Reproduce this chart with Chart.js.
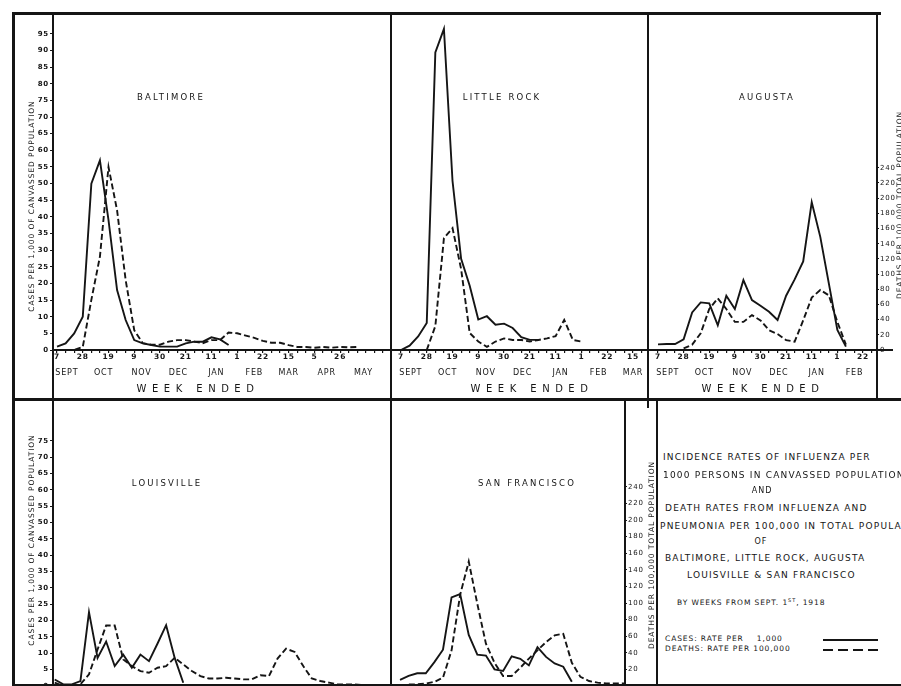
<!DOCTYPE html>
<html>
<head>
<meta charset="utf-8">
<script src="https://cdn.jsdelivr.net/npm/chart.js@4.4.1/dist/chart.umd.min.js"></script>
<style>
  html, body { margin: 0; padding: 0; background: #fff; overflow: hidden; }
  #page { position: relative; width: 901px; height: 686px; overflow: hidden; background: #fff; }
  canvas { position: absolute; }
  .ln { position: absolute; background: #151515; }
  .t { position: absolute; font-family: 'DejaVu Sans', 'Liberation Sans', sans-serif; color: #151515; white-space: nowrap; line-height: 1; }
  .c { transform: translate(-50%, -50%); }
  .l { transform: translateY(-50%); }
  .up { transform: translate(-50%, -50%) rotate(-90deg); font-size: 7.5px; letter-spacing: 0.9px; }
  .name { font-size: 8.5px; letter-spacing: 2.2px; }
  .we { font-size: 10px; letter-spacing: 5.5px; }
  .note { font-size: 9px; letter-spacing: 1.2px; }
  .small { font-size: 8px; letter-spacing: 1px; }
  .key { font-size: 7.5px; letter-spacing: 0.9px; }
  sup { font-size: 5px; }
</style>
</head>
<body>
<div id="page">
  <canvas id="baltimore" width="378" height="387" style="left:13px;top:13px"></canvas>
  <canvas id="littleRock" width="257" height="387" style="left:391px;top:13px"></canvas>
  <canvas id="augusta" width="253" height="387" style="left:648px;top:13px"></canvas>
  <canvas id="louisville" width="378" height="330" style="left:13px;top:400px"></canvas>
  <canvas id="sanFrancisco" width="266" height="330" style="left:391px;top:400px"></canvas>

  <!-- frame -->
  <div class="ln" style="left:13px;top:12px;width:868px;height:3px"></div>
  <div class="ln" style="left:12px;top:12px;width:3px;height:674px"></div>
  <div class="ln" style="left:52px;top:13px;width:2px;height:673px"></div>
  <div class="ln" style="left:390px;top:13px;width:2px;height:673px"></div>
  <div class="ln" style="left:647px;top:13px;width:2px;height:395px"></div>
  <div class="ln" style="left:876px;top:13px;width:2px;height:387px"></div>
  <div class="ln" style="left:877px;top:349px;width:16px;height:2px"></div>
  <div class="ln" style="left:13px;top:398px;width:888px;height:3px"></div>
  <div class="ln" style="left:624px;top:400px;width:2px;height:286px"></div>
  <div class="ln" style="left:656px;top:400px;width:2px;height:286px"></div>
  <div class="ln" style="left:13px;top:684px;width:888px;height:2px"></div>

  <!-- panel names -->
  <div class="t c name" style="left:171px;top:97px">BALTIMORE</div>
  <div class="t c name" style="left:502px;top:97px">LITTLE ROCK</div>
  <div class="t c name" style="left:767px;top:97px">AUGUSTA</div>
  <div class="t c name" style="left:167px;top:483px">LOUISVILLE</div>
  <div class="t c name" style="left:527px;top:483px">SAN FRANCISCO</div>

  <!-- axis titles -->
  <div class="t up" style="left:32px;top:206px">CASES PER 1,000 OF CANVASSED POPULATION</div>
  <div class="t up" style="left:32px;top:540px">CASES PER 1,000 OF CANVASSED POPULATION</div>
  <div class="t up" style="left:900px;top:205px">DEATHS PER 100,000 TOTAL POPULATION</div>
  <div class="t up" style="left:652px;top:555px">DEATHS PER 100,000 TOTAL POPULATION</div>
  <div class="t c we" style="left:198px;top:389px">WEEK ENDED</div>
  <div class="t c we" style="left:532px;top:389px">WEEK ENDED</div>
  <div class="t c we" style="left:763px;top:389px">WEEK ENDED</div>

  <!-- description -->
  <div class="t l note" style="left:663px;top:457px">INCIDENCE RATES OF INFLUENZA PER</div>
  <div class="t l note" style="left:663px;top:475px">1000 PERSONS IN CANVASSED POPULATION</div>
  <div class="t c small" style="left:762px;top:491px">AND</div>
  <div class="t l note" style="left:665px;top:508px">DEATH RATES FROM INFLUENZA AND</div>
  <div class="t l note" style="left:660px;top:526px">PNEUMONIA PER 100,000 IN TOTAL POPULATION</div>
  <div class="t c small" style="left:761px;top:542px">OF</div>
  <div class="t l note" style="left:665px;top:558px">BALTIMORE, LITTLE ROCK, AUGUSTA</div>
  <div class="t l note" style="left:687px;top:575px">LOUISVILLE &amp; SAN FRANCISCO</div>
  <div class="t l key" style="left:677px;top:602px">BY WEEKS FROM SEPT. 1<sup>ST</sup>, 1918</div>
  <div class="t l key" style="left:665px;top:639px">CASES: RATE PER &nbsp;&nbsp; 1,000</div>
  <div class="t l key" style="left:665px;top:649px">DEATHS: RATE PER 100,000</div>
  <div class="ln" style="left:823px;top:639px;width:55px;height:2px"></div>
  <div class="ln" style="left:823px;top:649px;width:55px;height:2px;background:repeating-linear-gradient(90deg,#151515 0 10px,transparent 10px 15px)"></div>
</div>

<script>
const INK = '#151515'
const FONT = "'DejaVu Sans', 'Liberation Sans', sans-serif"

// week-ending dates, every third week from Sat. Sept 7, 1918
const weekLabels = ['7', '28', '19', '9', '30', '21', '11', '1', '22', '15', '5', '26']
const monthLabels = ['SEPT', 'OCT', 'NOV', 'DEC', 'JAN', 'FEB', 'MAR', 'APR', 'MAY']
const casesTicks = [0, 5, 10, 15, 20, 25, 30, 35, 40, 45, 50, 55, 60, 65, 70, 75, 80, 85, 90, 95]
const louisvilleCasesTicks = [0, 5, 10, 15, 20, 25, 30, 35, 40, 45, 50, 55, 60, 65, 70, 75]
const deathsTicks = [0, 20, 40, 60, 80, 100, 120, 140, 160, 180, 200, 220, 240]

// weekly series: cases per 1,000 canvassed (solid), deaths per 100,000 total population (dashed)
const baltimoreCases = [1, 2, 5, 10, 50, 57, 39, 18, 9, 3, 2, 1.5, 1, 1, 1, 2, 2.5, 2.5, 3.8, 3.2, 1.5]
const baltimoreDeaths = [0, 0, 0, 4, 66, 123, 241, 184, 92, 26, 9, 7, 7, 11, 13, 13, 11, 9, 13, 13, 23, 22, 19, 16, 12, 9.5, 9.5, 6.5, 4, 4, 3, 4, 3, 4, 3.5, 4]

const littleRockCases = [0, 1.3, 4, 8, 88, 95, 50, 27, 19, 9, 10, 7.5, 7.8, 6.5, 3.8, 3, 3]
const littleRockDeaths = [null, null, null, 0, 31, 145, 158, 105, 22, 11, 4, 11, 15, 13, 13, 11, 13, 15, 18, 39, 13, 11]

const augustaCases = [1.7, 1.8, 1.8, 3.2, 11.3, 14.3, 14, 7.4, 16.3, 12.3, 21, 15, 13.3, 11.5, 9, 16.3, 21.2, 26.6, 44.4, 34, 20, 6, 1]
const augustaDeaths = [null, null, null, 2, 7, 22, 54, 68, 54, 37, 37, 46, 39, 26, 21, 13, 11, 39, 69, 79, 72, 37, 7]

const louisvilleCases = [2, 0.5, 0.5, 1.5, 22.6, 8.6, 13.6, 6.1, 9.6, 5.6, 9.6, 7.6, 13, 18.6, 8.6, 1]
const louisvilleDeaths = [4, 0, 0, 2, 14, 44, 73, 73, 32, 24, 18, 16, 22, 24, 34, 26, 18, 12, 9, 9, 10, 9, 8, 8, 13, 12, 33, 45, 41, 24, 9, 6, 4, 2, 2, 2, 1, 1, 1]

const sanFranciscoCases = [1.9, 3.1, 3.9, 3.9, 7.3, 11.1, 27.1, 28.1, 15.6, 9.6, 9.3, 5.1, 4.6, 9.1, 8.3, 6.3, 11.9, 8.9, 6.9, 5.9, 1.3]
const sanFranciscoDeaths = [0, 2, 2, 3, 5, 10, 43, 110, 150, 99, 51, 28, 12, 12, 22, 33, 43, 53, 61, 63, 28, 11, 6, 4, 3, 3, 3, 3]

// month names sit at the middle of each month, measured in weeks from Sept 7
const seriesStart = new Date(1918, 8, 7)
const monthWeeks = monthLabels.map((m, i) => (new Date(1918, 8 + i, 15) - seriesStart) / (7 * 864e5))

const toPoints = values => values.map((v, i) => ({ x: i, y: v }))

// pen-lettered look for all the axis text
const handLettering = {
  id: 'handLettering',
  beforeDraw(chart) { chart.ctx.letterSpacing = '0.8px' }
}

function renderPanel(canvasId, p) {
  const weekTicks = []
  for (let w = 0; w <= p.xMax; w++) weekTicks.push({ value: w })
  const monthTicks = monthWeeks
    .map((v, i) => ({ value: v, name: monthLabels[i] }))
    .filter(t => t.value > p.xMin + 0.8 && t.value < p.xMax - 0.8)

  return new Chart(document.getElementById(canvasId), {
    type: 'line',
    data: {
      datasets: [{
        label: 'Cases: rate per 1,000',
        data: toPoints(p.cases),
        yAxisID: 'y',
        borderColor: INK,
        borderWidth: 1.9
      }, {
        label: 'Deaths: rate per 100,000',
        data: toPoints(p.deaths),
        yAxisID: 'y2',
        borderColor: INK,
        borderWidth: 1.9,
        borderDash: [6, 3]
      }]
    },
    options: {
      responsive: false,
      animation: false,
      events: [],
      layout: { padding: 0, autoPadding: false },
      plugins: { legend: { display: false }, tooltip: { enabled: false } },
      elements: { point: { radius: 0 }, line: { tension: 0, fill: false } },
      scales: {
        x: {
          type: 'linear', position: 'bottom', weight: 0, min: p.xMin, max: p.xMax,
          afterBuildTicks: a => { a.ticks = weekTicks.map(t => ({ ...t })) },
          afterFit: a => { a.height = 14 },
          grid: { drawOnChartArea: false, color: INK, tickLength: 3, lineWidth: 1.2 },
          border: { display: true, color: INK, width: 2 },
          ticks: {
            autoSkip: false, maxRotation: 0, padding: 0, color: INK,
            font: { family: FONT, size: 7.5, weight: 'bold' },
            callback: v => (v % 3 === 0 ? (weekLabels[v / 3] || '') : '')
          }
        },
        months: {
          type: 'linear', position: 'bottom', weight: 1, min: p.xMin, max: p.xMax,
          afterBuildTicks: a => { a.ticks = monthTicks.map(t => ({ ...t })) },
          afterFit: a => { a.height = p.monthsHeight },
          grid: { display: false, drawTicks: false },
          border: { display: false },
          ticks: {
            autoSkip: false, maxRotation: 0, padding: 4, color: INK,
            font: { family: FONT, size: 8 },
            callback: (v, i, ts) => ts[i].name
          }
        },
        y: {
          type: 'linear', position: 'left', display: !!p.casesTicks, min: 0, max: p.casesMax,
          afterBuildTicks: a => { if (p.casesTicks) a.ticks = p.casesTicks.map(v => ({ value: v })) },
          afterFit: a => { if (p.casesTicks) a.width = 40 },
          grid: { drawOnChartArea: false, color: INK, tickLength: 3 },
          border: { display: true, color: INK, width: 2 },
          ticks: { padding: 1, color: INK, font: { family: FONT, size: 7, weight: 'bold' } }
        },
        y2: {
          type: 'linear', position: 'right', display: !!p.deathsTicks, min: 0, max: p.deathsMax,
          afterBuildTicks: a => { if (p.deathsTicks) a.ticks = p.deathsTicks.map(v => ({ value: v })) },
          afterFit: a => { if (p.deathsTicks) a.width = p.deathsWidth },
          grid: { drawOnChartArea: false, color: INK, tickLength: 2 },
          border: { display: true, color: INK, width: 2 },
          ticks: { padding: 1, color: INK, font: { family: FONT, size: 7 } }
        }
      }
    },
    plugins: [handLettering]
  })
}

// top row: 3.38 px per case, 0.771 px per death; bottom row: 3.33 and 0.845
const topRow = { casesMax: 99.7, deathsMax: 437, monthsHeight: 36 }
const bottomRow = { casesMax: 85.9, deathsMax: 338.5, monthsHeight: 30 }

renderPanel('baltimore', Object.assign({}, topRow, {
  cases: baltimoreCases, deaths: baltimoreDeaths,
  xMin: -0.47, xMax: 38.93, casesTicks: casesTicks
}))
renderPanel('littleRock', Object.assign({}, topRow, {
  cases: littleRockCases, deaths: littleRockDeaths,
  xMin: -1.16, xMax: 28.75
}))
renderPanel('augusta', Object.assign({}, topRow, {
  cases: augustaCases, deaths: augustaDeaths,
  xMin: -1.17, xMax: 25.64, deathsTicks: deathsTicks, deathsWidth: 24
}))
renderPanel('louisville', Object.assign({}, bottomRow, {
  cases: louisvilleCases, deaths: louisvilleDeaths,
  xMin: -0.2, xMax: 39.24, casesTicks: louisvilleCasesTicks
}))
renderPanel('sanFrancisco', Object.assign({}, bottomRow, {
  cases: sanFranciscoCases, deaths: sanFranciscoDeaths,
  xMin: -1.05, xMax: 26.19, deathsTicks: deathsTicks.filter(v => v > 0), deathsWidth: 32
}))
</script>
</body>
</html>
